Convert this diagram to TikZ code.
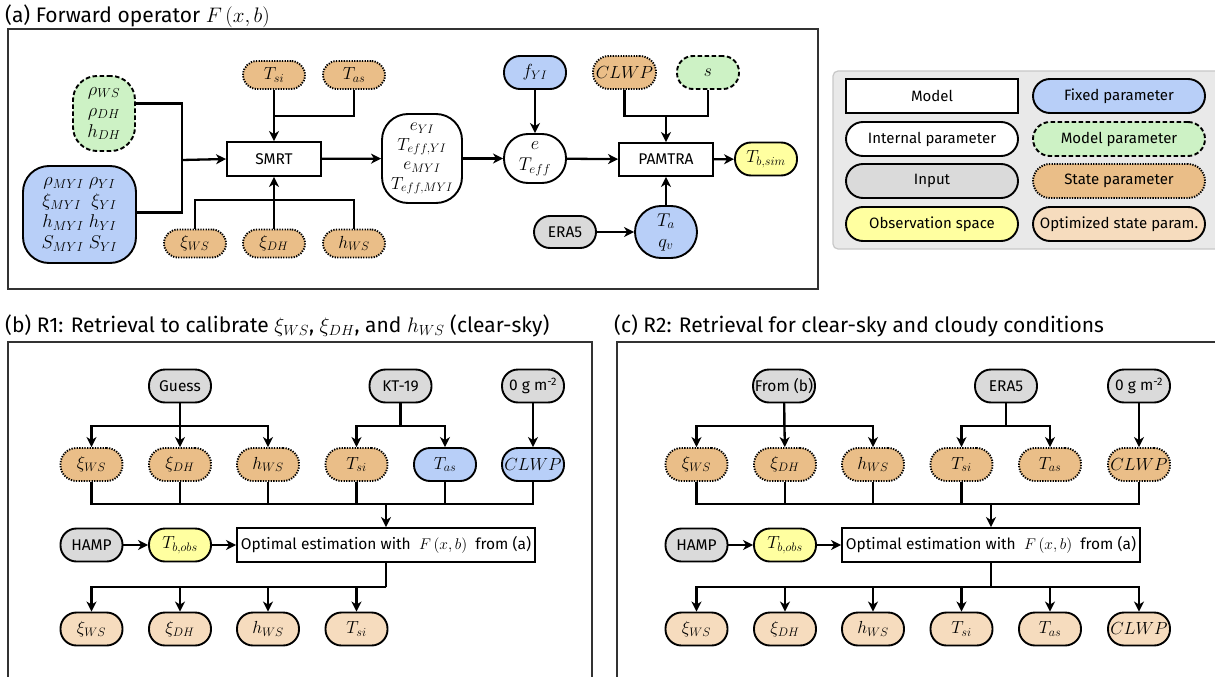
\RequirePackage{fix-cm}
\documentclass[tikz,border=0pt]{standalone}
\usepackage[no-math]{fontspec}
\setmainfont{Fira Sans}
\usetikzlibrary{arrows.meta,calc}
\definecolor{cfixed}{RGB}{184,207,248}
\definecolor{cmodel}{RGB}{205,242,197}
\definecolor{cstate}{RGB}{234,190,136}
\definecolor{copt}{RGB}{246,220,190}
\definecolor{cobs}{RGB}{255,255,160}
\definecolor{cinput}{RGB}{218,218,218}
\definecolor{clegbg}{RGB}{233,233,233}
\definecolor{clegbd}{RGB}{200,200,200}
\definecolor{cframe}{RGB}{50,50,50}
\begin{document}
\begin{tikzpicture}[x=1pt,y=-1pt,
  every node/.style={font=\fontsize{15.5}{17}\selectfont},
  pill/.style={draw, line width=1.9pt, minimum width=62pt, minimum height=33pt, inner sep=1pt, align=center, rounded corners=16pt},
  mth/.style={font=\fontsize{17.5}{20}\selectfont},
  bigm/.style={font=\fontsize{18.5}{21}\selectfont},
  fixedp/.style={pill, fill=cfixed},
  modelp/.style={pill, fill=cmodel, dash pattern=on 4.5pt off 2.5pt},
  statep/.style={pill, fill=cstate, dash pattern=on 1.3pt off 1.3pt},
  optp/.style={pill, fill=copt},
  inputp/.style={pill, fill=cinput},
  obsp/.style={pill, fill=cobs},
  intp/.style={pill, fill=white},
  modelbox/.style={draw, line width=1.9pt, fill=white, minimum width=94pt, minimum height=34pt, inner sep=2pt},
  small/.style={minimum height=28pt, rounded corners=14pt},
  legpill/.style={minimum width=172pt, minimum height=34pt, rounded corners=17pt, font=\fontsize{15}{17}\selectfont},
  ln/.style={line width=2.3pt},
  arr/.style={line width=2.3pt, -{Stealth[length=10pt,width=10pt,inset=3pt]}},
  frame/.style={draw=cframe, line width=1.4pt},
  title/.style={anchor=west, inner sep=0pt, font=\fontsize{21}{23}\selectfont}
]
\useasboundingbox (0,0) rectangle (1215,677);
\clip (0,0) rectangle (1215,677);

% ---------------- Panel (a) ----------------
\node[title] (ta) at (5,16) {(a) Forward operator $F\,(x,b)$};
\draw[frame] (8,29) rectangle (818,289);

\node[modelp, bigm, minimum height=75pt, rounded corners=24pt, inner sep=0pt] (rhogreen) at (104,113.5) {$\rho_{WS}$\\$\rho_{DH}$\\$h_{DH}$};
\node[fixedp, bigm, minimum width=113pt, minimum height=97pt, rounded corners=26pt, inner sep=0pt] (iceb) at (79.5,214.5)
  {$\rho_{MYI}\;\rho_{YI}$\\$\xi_{MYI}\;\;\xi_{YI}$\\$h_{MYI}\;h_{YI}$\\$S_{MYI}\;S_{YI}$};
\node[modelbox] (smrt) at (274,159) {SMRT};
\node[statep, small, mth] (atsi) at (274,75) {$T_{si}$};
\node[statep, small, mth] (atas) at (354,75) {$T_{as}$};
\node[statep, small, mth] (axiws) at (195,243.5) {$\xi_{WS}$};
\node[statep, small, mth] (axidh) at (274,243.5) {$\xi_{DH}$};
\node[statep, small, mth] (ahws) at (354,243.5) {$h_{WS}$};
\node[intp, font=\fontsize{17.5}{19.5}\selectfont, minimum width=80pt, minimum height=89pt, rounded corners=26pt, inner sep=0pt] (intl) at (422,158.5)
  {$e_{YI}$\\$T_{eff,YI}$\\$e_{MYI}$\\$T_{eff,MYI}$};
\node[intp, bigm, minimum height=49pt, rounded corners=24pt, inner sep=0pt] (eteff) at (535,158.5) {$e$\\$T_{eff}$};
\node[fixedp, mth] (fyi) at (535,72.5) {$f_{YI}$};
\node[modelbox, minimum height=33pt] (pamtra) at (666,159.5) {PAMTRA};
\node[statep, mth, minimum width=63pt] (aclwp) at (624.5,72.5) {$CLWP$};
\node[modelp, mth] (as) at (708,72.5) {$s$};
\node[obsp, mth] (tbsim) at (766,159) {$T_{b,sim}$};
\node[inputp, minimum height=32pt] (aera5) at (565,232) {ERA5};
\node[fixedp, bigm, minimum height=52pt, rounded corners=26pt, inner sep=0pt] (tq) at (666,232) {$T_a$\\$q_v$};

\coordinate (ja) at (182,160);
\coordinate (jb) at (274,116);
\coordinate (jc) at (274,200);
\coordinate (jd) at (666,116);

\draw[ln] ([yshift=10pt]rhogreen.east) -| (ja);
\draw[ln] ([yshift=2pt]iceb.east) -| (ja);
\draw[arr] (ja) -- (smrt.west);
\draw[arr] (atsi) -- (smrt);
\draw[ln] (atas.south) |- (jb);
\draw[ln] (axiws.north) |- (jc) -| (ahws.north);
\draw[arr] (axidh) -- (smrt);
\draw[arr] (smrt) -- (intl);
\draw[arr] (intl) -- (eteff);
\draw[arr] (fyi) -- (eteff);
\draw[arr] (eteff) -- (pamtra);
\draw[ln] (aclwp.south) |- (jd) -| (as.south);
\draw[arr] (jd) -- (pamtra);
\draw[arr] (pamtra) -- (tbsim);
\draw[arr] (aera5) -- (tq);
\draw[arr] (tq) -- (pamtra);

% ---------------- Legend ----------------
\draw[draw=clegbd, fill=clegbg, line width=1.2pt, rounded corners=5pt] (833,71) rectangle (1230,249);
\node[modelbox, minimum width=172pt, font=\fontsize{15}{17}\selectfont] (lmodel) at (932,96) {Model};
\node[fixedp, legpill] (lfixed) at (1119,96) {Fixed parameter};
\node[intp, legpill] (lint) at (932,139) {Internal parameter};
\node[modelp, legpill] (lmodp) at (1119,139) {Model parameter};
\node[inputp, legpill] (linput) at (932,181) {Input};
\node[statep, legpill] (lstate) at (1119,181) {State parameter};
\node[obsp, legpill] (lobs) at (932,224) {Observation space};
\node[optp, legpill] (lopt) at (1119,224) {Optimized state param.};

% ---------------- Panel (b) ----------------
\node[title] (tb) at (5,326) {(b) R1: Retrieval to calibrate $\xi_{WS}$, $\xi_{DH}$, and $h_{WS}$ (clear-sky)};
\draw[frame] (8,680) -- (8,342) -- (592,342) -- (592,680);

\node[inputp] (bguess) at (180,386) {Guess};
\node[inputp] (bkt) at (400.5,386) {KT-19};
\node[inputp] (bzero) at (533,386) {0 g m\textsuperscript{-2}};
\node[statep, mth] (bxiws) at (91.5,464.5) {$\xi_{WS}$};
\node[statep, mth] (bxidh) at (180,464.5) {$\xi_{DH}$};
\node[statep, mth] (bhws) at (268,464.5) {$h_{WS}$};
\node[statep, mth] (btsi) at (356.5,464.5) {$T_{si}$};
\node[fixedp, mth] (btas) at (445,464.5) {$T_{as}$};
\node[fixedp, mth] (bclwp) at (533,464.5) {$CLWP$};
\node[inputp] (bhamp) at (91.5,545) {HAMP};
\node[obsp, mth] (btobs) at (180,545) {$T_{b,obs}$};
\node[modelbox, minimum width=298pt] (bopt) at (386,545) {Optimal estimation with \ $F\,(x,b)$ \ from (a)};
\node[optp, mth] (oxiws) at (91.5,629) {$\xi_{WS}$};
\node[optp, mth] (oxidh) at (180,629) {$\xi_{DH}$};
\node[optp, mth] (ohws) at (268,629) {$h_{WS}$};
\node[optp, mth] (otsi) at (356.5,629) {$T_{si}$};

\coordinate (bg) at (180,426);
\coordinate (bk) at (400.5,426);
\coordinate (bb) at (386,504);
\coordinate (bo) at (386,587);

\draw[ln] (bguess) -- (bg);
\draw[arr] (bg) -| (bxiws);
\draw[arr] (bg) -| (bhws);
\draw[arr] (bguess) -- (bxidh);
\draw[ln] (bkt) -- (bk);
\draw[arr] (bk) -| (btsi);
\draw[arr] (bk) -| (btas);
\draw[arr] (bzero) -- (bclwp);
\draw[ln] (bxiws.south) |- (bb) -| (bclwp.south);
\draw[ln] (bxidh.south) -- (bxidh.south |- bb);
\draw[ln] (bhws.south) -- (bhws.south |- bb);
\draw[ln] (btsi.south) -- (btsi.south |- bb);
\draw[ln] (btas.south) -- (btas.south |- bb);
\draw[arr] (bb) -- (bopt);
\draw[arr] (bhamp) -- (btobs);
\draw[arr] (btobs) -- (bopt);
\draw[ln] (bopt) -- (bo);
\draw[arr] (bo) -| (oxiws);
\draw[arr] (bo) -| (oxidh);
\draw[arr] (bo) -| (ohws);
\draw[arr] (bo) -| (otsi);

% ---------------- Panel (c) ----------------
\node[title] (tc) at (614,326) {(c) R2: Retrieval for clear-sky and cloudy conditions};
\draw[frame] (617,680) -- (617,342) -- (1220,342);

\node[inputp] (cfrom) at (784,386) {From (b)};
\node[inputp] (cera) at (1006,386) {ERA5};
\node[inputp] (czero) at (1139,386) {0 g m\textsuperscript{-2}};
\node[statep, mth] (cxiws) at (696.5,464.5) {$\xi_{WS}$};
\node[statep, mth] (cxidh) at (785,464.5) {$\xi_{DH}$};
\node[statep, mth] (chws) at (873,464.5) {$h_{WS}$};
\node[statep, mth] (ctsi) at (961.5,464.5) {$T_{si}$};
\node[statep, mth] (ctas) at (1050,464.5) {$T_{as}$};
\node[statep, mth] (cclwp) at (1139,464.5) {$CLWP$};
\node[inputp] (champ) at (696.5,545) {HAMP};
\node[obsp, mth] (ctobs) at (785,545) {$T_{b,obs}$};
\node[modelbox, minimum width=298pt] (copt) at (991,545) {Optimal estimation with \ $F\,(x,b)$ \ from (a)};
\node[optp, mth] (pxiws) at (696.5,629) {$\xi_{WS}$};
\node[optp, mth] (pxidh) at (785,629) {$\xi_{DH}$};
\node[optp, mth] (phws) at (873,629) {$h_{WS}$};
\node[optp, mth] (ptsi) at (961.5,629) {$T_{si}$};
\node[optp, mth] (ptas) at (1050,629) {$T_{as}$};
\node[optp, mth] (pclwp) at (1139,629) {$CLWP$};

\coordinate (cg) at (784,426);
\coordinate (ck) at (1006,426);
\coordinate (cb) at (991,504);
\coordinate (co) at (991,587);

\draw[ln] (cfrom) -- (cg);
\draw[arr] (cg) -| (cxiws);
\draw[arr] (cg) -| (chws);
\draw[arr] (cfrom) -- (cxidh);
\draw[ln] (cera) -- (ck);
\draw[arr] (ck) -| (ctsi);
\draw[arr] (ck) -| (ctas);
\draw[arr] (czero) -- (cclwp);
\draw[ln] (cxiws.south) |- (cb) -| (cclwp.south);
\draw[ln] (cxidh.south) -- (cxidh.south |- cb);
\draw[ln] (chws.south) -- (chws.south |- cb);
\draw[ln] (ctsi.south) -- (ctsi.south |- cb);
\draw[arr] (cb) -- (copt);
\draw[arr] (champ) -- (ctobs);
\draw[arr] (ctobs) -- (copt);
\draw[ln] (copt) -- (co);
\draw[arr] (co) -| (pxiws);
\draw[arr] (co) -| (pxidh);
\draw[arr] (co) -| (phws);
\draw[arr] (co) -| (ptsi);
\draw[arr] (co) -| (ptas);
\draw[arr] (co) -| (pclwp);
\end{tikzpicture}
\end{document}
